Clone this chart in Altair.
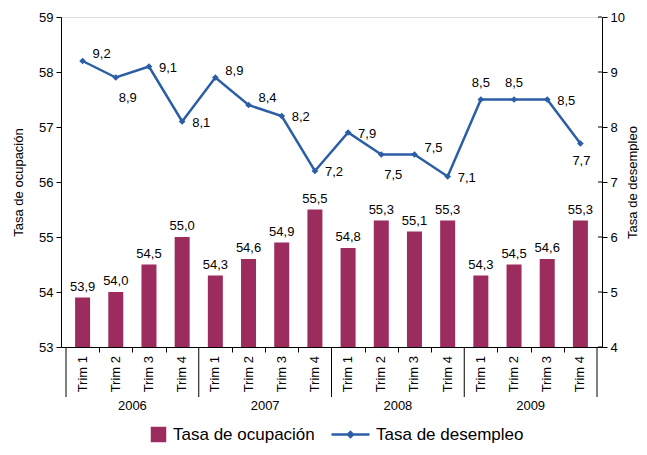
import altair as alt
import pandas as pd

# ---------------- data ----------------
years = ["2006", "2007", "2008", "2009"]
quarters = ["Trim 1", "Trim 2", "Trim 3", "Trim 4"]
ocupacion = [53.9, 54.0, 54.5, 55.0, 54.3, 54.6, 54.9, 55.5,
             54.8, 55.3, 55.1, 55.3, 54.3, 54.5, 54.6, 55.3]
desempleo = [9.2, 8.9, 9.1, 8.1, 8.9, 8.4, 8.2, 7.2,
             7.9, 7.5, 7.5, 7.1, 8.5, 8.5, 8.5, 7.7]
# where each unemployment label sits relative to its point
des_label_pos = ["ar", "br", "r", "r", "ar", "ar", "r", "r",
                 "r", "br", "ar", "r", "a", "a", "r", "b"]
left_ticks = [53, 54, 55, 56, 57, 58, 59]
right_ticks = [4, 5, 6, 7, 8, 9, 10]
serie_ocu = "Tasa de ocupación"
serie_des = "Tasa de desempleo"

BAR_COLOR = "#9C2B5E"
LINE_COLOR = "#2B5EA5"
FONT = "Liberation Sans"

rows = []
for yi, yr in enumerate(years):
    for qi, q in enumerate(quarters):
        k = yi * len(quarters) + qi
        rows.append(dict(
            i=k, year=yr, trim=q,
            ocu=ocupacion[k], des=desempleo[k],
            ocu_lbl=f"{ocupacion[k]:.1f}".replace(".", ","),
            des_lbl=f"{desempleo[k]:.1f}".replace(".", ","),
            pos=des_label_pos[k], s1=serie_ocu, s2=serie_des,
        ))
df = pd.DataFrame(rows)
nq = len(quarters)
n = len(rows)
years_df = pd.DataFrame({"i": [yi * nq + (nq - 1) / 2 for yi in range(len(years))],
                         "year": years})
sep_df = pd.DataFrame({"i": [yi * nq - 0.5 for yi in range(len(years) + 1)]})
rticks_df = pd.DataFrame({"des": right_ticks})
minor_ticks = [k + 0.5 for k in range(n - 1) if (k + 1) % nq != 0]

W, H = 541, 330

# ---------------- encodings ----------------
xenc = alt.X("i:Q",
             scale=alt.Scale(domain=[-0.5, n - 0.5], nice=False, zero=False),
             axis=alt.Axis(values=minor_ticks, labels=False, title=None, grid=False,
                           domainColor="black", tickColor="black", tickSize=5,
                           orient="bottom"))

axis_common = dict(grid=False, tickSize=5, labelFontSize=13, titleFontSize=13,
                   titleFontWeight="normal", domainColor="black", tickColor="black",
                   labelColor="black", titleColor="black", labelPadding=3,
                   labelFont=FONT, titleFont=FONT)

y_left = alt.Y("ocu:Q",
               scale=alt.Scale(domain=[left_ticks[0], left_ticks[-1]], nice=False, zero=False),
               axis=alt.Axis(values=left_ticks, title=serie_ocu, orient="left",
                             titlePadding=13, **axis_common))
y_right = alt.Y("des:Q",
                scale=alt.Scale(domain=[right_ticks[0], right_ticks[-1]], nice=False, zero=False),
                axis=alt.Axis(values=right_ticks, title=serie_des, orient="right",
                              titleAngle=270, titleBaseline="middle", titleAlign="center",
                              titleX=30, titleY=H / 2, **axis_common))

# ---------------- left (bars) ----------------
bars = alt.Chart(df).mark_bar(size=15).encode(
    x=xenc, y=y_left, y2=alt.datum(left_ticks[0]),
    color=alt.Color("s1:N", scale=alt.Scale(range=[BAR_COLOR]),
                    legend=alt.Legend(orient="none", legendX=89, legendY=409, title=None,
                                      symbolType="square", symbolSize=240,
                                      symbolStrokeWidth=0, labelFontSize=17,
                                      labelFont=FONT, labelColor="black",
                                      labelOffset=6)),
)
bar_text = alt.Chart(df).mark_text(font=FONT, fontSize=13, color="black",
                                   baseline="bottom", dy=-4).encode(
    x=xenc, y=y_left, text="ocu_lbl:N")

trim_text = alt.Chart(df).mark_text(font=FONT, fontSize=13, color="black", angle=270,
                                    align="right", baseline="middle").encode(
    x=xenc, y=alt.value(H + 9), text="trim:N")
year_text = alt.Chart(years_df).mark_text(font=FONT, fontSize=13, color="black",
                                          baseline="middle").encode(
    x=xenc, y=alt.value(H + 59), text="year:N")
seps = alt.Chart(sep_df).mark_rule(color="black", strokeWidth=1).encode(
    x=xenc, y=alt.value(H), y2=alt.value(H + 50))

left = alt.layer(bars, bar_text, trim_text, year_text, seps)

# ---------------- right (line) ----------------
line_symbol = "M-1,0L1,0M0,-0.13L0.13,0L0,0.13L-0.13,0Z"
line = alt.Chart(df).mark_line(
    strokeWidth=2.5,
    point=alt.OverlayMarkDef(shape="diamond", size=45, filled=True, color=LINE_COLOR),
).encode(
    x=xenc, y=y_right,
    color=alt.Color("s2:N", scale=alt.Scale(range=[LINE_COLOR]),
                    legend=alt.Legend(orient="none", legendX=269, legendY=397, title=None,
                                      symbolType=line_symbol, symbolSize=1444,
                                      symbolStrokeWidth=2.5, symbolFillColor=LINE_COLOR,
                                      symbolStrokeColor=LINE_COLOR,
                                      labelFontSize=17, labelFont=FONT,
                                      labelColor="black", labelOffset=5)),
)

# inner half of the crossing ticks on the right axis
rticks_in = alt.Chart(rticks_df).mark_rule(color="black", strokeWidth=1).encode(
    x=alt.value(W - 4), x2=alt.value(W), y=y_right)

placements = {
    "r": dict(align="left", baseline="middle", dx=10, dy=1),
    "ar": dict(align="left", baseline="middle", dx=10, dy=-7),
    "br": dict(align="center", baseline="middle", dx=12, dy=20),
    "a": dict(align="center", baseline="middle", dx=0, dy=-17),
    "b": dict(align="center", baseline="middle", dx=1, dy=17),
}
line_texts = [
    alt.Chart(df).transform_filter(alt.datum.pos == key)
    .mark_text(font=FONT, fontSize=13, color="black", **opts)
    .encode(x=xenc, y=y_right, text="des_lbl:N")
    for key, opts in placements.items()
]
right = alt.layer(line, rticks_in, *line_texts)

chart = (
    alt.layer(left, right)
    .resolve_scale(y="independent", color="independent")
    .properties(width=W, height=H,
                autosize=alt.AutoSizeParams(type="none"),
                padding={"left": 53, "top": 9, "right": 37, "bottom": 99})
    .configure_view(strokeWidth=0)
    .configure(background="white")
)

chart.save("out.html", embed_options={"renderer": "svg", "actions": False})
